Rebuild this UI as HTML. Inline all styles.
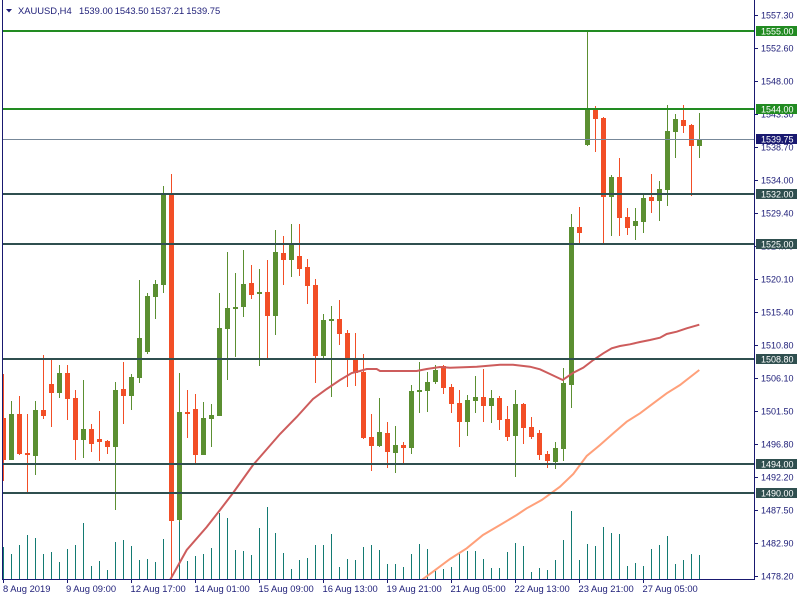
<!DOCTYPE html>
<html><head><meta charset="utf-8"><style>
html,body{margin:0;padding:0;background:#fff;width:800px;height:600px;overflow:hidden}
svg{display:block}
text{font-family:"Liberation Sans",sans-serif}
</style></head><body>
<svg width="800" height="600" viewBox="0 0 800 600" xmlns="http://www.w3.org/2000/svg">
<rect x="0" y="0" width="800" height="600" fill="#ffffff"/>
<defs><clipPath id="ca"><rect x="3" y="0" width="751" height="579"/></clipPath></defs>
<g clip-path="url(#ca)">
<!-- volumes -->
<g fill="#137a72">
<rect x="3" y="547" width="1" height="32"/><rect x="11" y="554" width="1" height="25"/><rect x="19" y="545" width="1" height="34"/><rect x="27" y="535" width="1" height="44"/><rect x="35" y="538" width="1" height="41"/><rect x="43" y="554" width="1" height="25"/><rect x="51" y="552" width="1" height="27"/><rect x="59" y="562" width="1" height="17"/><rect x="67" y="549" width="1" height="30"/><rect x="75" y="545" width="1" height="34"/><rect x="83" y="523" width="1" height="56"/><rect x="91" y="566" width="1" height="13"/><rect x="99" y="561" width="1" height="18"/><rect x="107" y="570" width="1" height="9"/><rect x="115" y="542" width="1" height="37"/><rect x="123" y="540" width="1" height="39"/><rect x="131" y="546" width="1" height="33"/><rect x="139" y="560" width="1" height="19"/><rect x="147" y="559" width="1" height="20"/><rect x="155" y="562" width="1" height="17"/><rect x="163" y="539" width="1" height="40"/><rect x="171" y="566" width="1" height="13"/><rect x="179" y="522" width="1" height="57"/><rect x="187" y="561" width="1" height="18"/><rect x="195" y="556" width="1" height="23"/><rect x="203" y="554" width="1" height="25"/><rect x="211" y="548" width="1" height="31"/><rect x="219" y="513" width="1" height="66"/><rect x="227" y="518" width="1" height="61"/><rect x="235" y="550" width="1" height="29"/><rect x="243" y="551" width="1" height="28"/><rect x="251" y="555" width="1" height="24"/><rect x="259" y="528" width="1" height="51"/><rect x="267" y="507" width="1" height="72"/><rect x="275" y="533" width="1" height="46"/><rect x="283" y="553" width="1" height="26"/><rect x="291" y="569" width="1" height="10"/><rect x="299" y="560" width="1" height="19"/><rect x="307" y="558" width="1" height="21"/><rect x="315" y="545" width="1" height="34"/><rect x="323" y="545" width="1" height="34"/><rect x="331" y="534" width="1" height="45"/><rect x="339" y="567" width="1" height="12"/><rect x="347" y="559" width="1" height="20"/><rect x="355" y="560" width="1" height="19"/><rect x="363" y="547" width="1" height="32"/><rect x="371" y="545" width="1" height="34"/><rect x="379" y="550" width="1" height="29"/><rect x="387" y="564" width="1" height="15"/><rect x="395" y="564" width="1" height="15"/><rect x="403" y="567" width="1" height="12"/><rect x="411" y="554" width="1" height="25"/><rect x="419" y="544" width="1" height="35"/><rect x="427" y="549" width="1" height="30"/><rect x="435" y="571" width="1" height="8"/><rect x="443" y="569" width="1" height="10"/><rect x="451" y="567" width="1" height="12"/><rect x="459" y="554" width="1" height="25"/><rect x="467" y="551" width="1" height="28"/><rect x="475" y="551" width="1" height="28"/><rect x="483" y="559" width="1" height="20"/><rect x="491" y="568" width="1" height="11"/><rect x="499" y="568" width="1" height="11"/><rect x="507" y="552" width="1" height="27"/><rect x="515" y="543" width="1" height="36"/><rect x="523" y="546" width="1" height="33"/><rect x="531" y="572" width="1" height="7"/><rect x="539" y="568" width="1" height="11"/><rect x="547" y="570" width="1" height="9"/><rect x="555" y="560" width="1" height="19"/><rect x="563" y="540" width="1" height="39"/><rect x="571" y="511" width="1" height="68"/><rect x="579" y="560" width="1" height="19"/><rect x="587" y="544" width="1" height="35"/><rect x="595" y="546" width="1" height="33"/><rect x="603" y="527" width="1" height="52"/><rect x="611" y="533" width="1" height="46"/><rect x="619" y="534" width="1" height="45"/><rect x="627" y="566" width="1" height="13"/><rect x="635" y="563" width="1" height="16"/><rect x="643" y="566" width="1" height="13"/><rect x="651" y="549" width="1" height="30"/><rect x="659" y="545" width="1" height="34"/><rect x="667" y="536" width="1" height="43"/><rect x="675" y="564" width="1" height="15"/><rect x="683" y="560" width="1" height="19"/><rect x="691" y="554" width="1" height="25"/><rect x="699" y="555" width="1" height="24"/>
</g>
<!-- bearish candles -->
<g fill="#f24e26">
<rect x="3" y="374" width="1" height="107"/><rect x="1" y="418" width="5" height="42"/>
<rect x="19" y="396" width="1" height="59"/><rect x="17" y="414" width="5" height="40"/>
<rect x="27" y="414" width="1" height="80"/><rect x="25" y="453" width="5" height="2"/>
<rect x="43" y="355" width="1" height="64"/><rect x="41" y="410" width="5" height="6"/>
<rect x="51" y="358" width="1" height="69"/><rect x="49" y="384" width="5" height="9"/>
<rect x="67" y="365" width="1" height="55"/><rect x="65" y="373" width="5" height="26"/>
<rect x="75" y="390" width="1" height="70"/><rect x="73" y="398" width="5" height="42"/>
<rect x="91" y="424" width="1" height="28"/><rect x="89" y="429" width="5" height="15"/>
<rect x="99" y="411" width="1" height="50"/><rect x="97" y="439" width="5" height="3"/>
<rect x="107" y="440" width="1" height="14"/><rect x="105" y="441" width="5" height="6"/>
<rect x="123" y="362" width="1" height="62"/><rect x="121" y="389" width="5" height="7"/>
<rect x="171" y="174" width="1" height="405"/><rect x="169" y="193" width="5" height="328"/>
<rect x="187" y="390" width="1" height="48"/><rect x="185" y="412" width="5" height="2"/>
<rect x="195" y="394" width="1" height="70"/><rect x="193" y="409" width="5" height="46"/>
<rect x="251" y="265" width="1" height="34"/><rect x="249" y="283" width="5" height="12"/>
<rect x="267" y="260" width="1" height="99"/><rect x="265" y="292" width="5" height="24"/>
<rect x="283" y="236" width="1" height="49"/><rect x="281" y="253" width="5" height="7"/>
<rect x="299" y="224" width="1" height="52"/><rect x="297" y="256" width="5" height="13"/>
<rect x="307" y="259" width="1" height="45"/><rect x="305" y="267" width="5" height="19"/>
<rect x="315" y="279" width="1" height="104"/><rect x="313" y="285" width="5" height="71"/>
<rect x="339" y="300" width="1" height="45"/><rect x="337" y="319" width="5" height="15"/>
<rect x="347" y="330" width="1" height="57"/><rect x="345" y="333" width="5" height="26"/>
<rect x="355" y="333" width="1" height="53"/><rect x="353" y="358" width="5" height="15"/>
<rect x="363" y="354" width="1" height="85"/><rect x="361" y="372" width="5" height="66"/>
<rect x="371" y="414" width="1" height="57"/><rect x="369" y="437" width="5" height="9"/>
<rect x="387" y="422" width="1" height="46"/><rect x="385" y="433" width="5" height="19"/>
<rect x="403" y="442" width="1" height="21"/><rect x="401" y="445" width="5" height="3"/>
<rect x="443" y="365" width="1" height="29"/><rect x="441" y="366" width="5" height="22"/>
<rect x="451" y="384" width="1" height="29"/><rect x="449" y="387" width="5" height="17"/>
<rect x="459" y="390" width="1" height="57"/><rect x="457" y="403" width="5" height="19"/>
<rect x="483" y="369" width="1" height="53"/><rect x="481" y="397" width="5" height="9"/>
<rect x="499" y="396" width="1" height="34"/><rect x="497" y="398" width="5" height="22"/>
<rect x="507" y="406" width="1" height="35"/><rect x="505" y="419" width="5" height="18"/>
<rect x="523" y="403" width="1" height="41"/><rect x="521" y="404" width="5" height="24"/>
<rect x="531" y="417" width="1" height="22"/><rect x="529" y="427" width="5" height="10"/>
<rect x="539" y="430" width="1" height="30"/><rect x="537" y="433" width="5" height="22"/>
<rect x="547" y="451" width="1" height="17"/><rect x="545" y="454" width="5" height="7"/>
<rect x="579" y="207" width="1" height="37"/><rect x="577" y="227" width="5" height="6"/>
<rect x="595" y="106" width="1" height="46"/><rect x="593" y="109" width="5" height="10"/>
<rect x="603" y="117" width="1" height="128"/><rect x="601" y="118" width="5" height="79"/>
<rect x="619" y="158" width="1" height="78"/><rect x="617" y="177" width="5" height="41"/>
<rect x="627" y="208" width="1" height="27"/><rect x="625" y="217" width="5" height="11"/>
<rect x="651" y="174" width="1" height="39"/><rect x="649" y="197" width="5" height="4"/>
<rect x="683" y="105" width="1" height="28"/><rect x="681" y="120" width="5" height="6"/>
<rect x="691" y="124" width="1" height="72"/><rect x="689" y="125" width="5" height="21"/>
</g>
<!-- bullish candles -->
<g fill="#5b8f31">
<rect x="11" y="401" width="1" height="59"/><rect x="9" y="414" width="5" height="46"/>
<rect x="35" y="401" width="1" height="74"/><rect x="33" y="410" width="5" height="46"/>
<rect x="59" y="365" width="1" height="33"/><rect x="57" y="373" width="5" height="20"/>
<rect x="83" y="380" width="1" height="78"/><rect x="81" y="429" width="5" height="11"/>
<rect x="115" y="382" width="1" height="128"/><rect x="113" y="390" width="5" height="57"/>
<rect x="131" y="374" width="1" height="36"/><rect x="129" y="377" width="5" height="19"/>
<rect x="139" y="280" width="1" height="103"/><rect x="137" y="338" width="5" height="40"/>
<rect x="147" y="293" width="1" height="61"/><rect x="145" y="296" width="5" height="56"/>
<rect x="155" y="280" width="1" height="39"/><rect x="153" y="284" width="5" height="13"/>
<rect x="163" y="186" width="1" height="107"/><rect x="161" y="193" width="5" height="92"/>
<rect x="179" y="373" width="1" height="149"/><rect x="177" y="412" width="5" height="108"/>
<rect x="203" y="402" width="1" height="53"/><rect x="201" y="418" width="5" height="37"/>
<rect x="211" y="404" width="1" height="43"/><rect x="209" y="415" width="5" height="4"/>
<rect x="219" y="293" width="1" height="123"/><rect x="217" y="328" width="5" height="88"/>
<rect x="227" y="252" width="1" height="128"/><rect x="225" y="308" width="5" height="21"/>
<rect x="235" y="273" width="1" height="84"/><rect x="233" y="307" width="5" height="2"/>
<rect x="243" y="250" width="1" height="67"/><rect x="241" y="284" width="5" height="23"/>
<rect x="259" y="269" width="1" height="97"/><rect x="257" y="292" width="5" height="2"/>
<rect x="275" y="230" width="1" height="105"/><rect x="273" y="252" width="5" height="64"/>
<rect x="291" y="224" width="1" height="53"/><rect x="289" y="243" width="5" height="17"/>
<rect x="323" y="314" width="1" height="46"/><rect x="321" y="320" width="5" height="36"/>
<rect x="331" y="306" width="1" height="91"/><rect x="329" y="319" width="5" height="2"/>
<rect x="379" y="398" width="1" height="49"/><rect x="377" y="432" width="5" height="14"/>
<rect x="395" y="426" width="1" height="47"/><rect x="393" y="445" width="5" height="8"/>
<rect x="411" y="385" width="1" height="69"/><rect x="409" y="391" width="5" height="57"/>
<rect x="419" y="362" width="1" height="51"/><rect x="417" y="390" width="5" height="2"/>
<rect x="427" y="372" width="1" height="40"/><rect x="425" y="382" width="5" height="9"/>
<rect x="435" y="365" width="1" height="19"/><rect x="433" y="370" width="5" height="12"/>
<rect x="467" y="395" width="1" height="41"/><rect x="465" y="400" width="5" height="22"/>
<rect x="475" y="376" width="1" height="37"/><rect x="473" y="397" width="5" height="4"/>
<rect x="491" y="390" width="1" height="33"/><rect x="489" y="398" width="5" height="8"/>
<rect x="515" y="390" width="1" height="87"/><rect x="513" y="404" width="5" height="32"/>
<rect x="555" y="442" width="1" height="27"/><rect x="553" y="448" width="5" height="14"/>
<rect x="563" y="368" width="1" height="93"/><rect x="561" y="383" width="5" height="66"/>
<rect x="571" y="214" width="1" height="194"/><rect x="569" y="227" width="5" height="158"/>
<rect x="587" y="31" width="1" height="115"/><rect x="585" y="109" width="5" height="36"/>
<rect x="611" y="175" width="1" height="61"/><rect x="609" y="177" width="5" height="20"/>
<rect x="635" y="208" width="1" height="32"/><rect x="633" y="221" width="5" height="5"/>
<rect x="643" y="194" width="1" height="39"/><rect x="641" y="198" width="5" height="24"/>
<rect x="659" y="181" width="1" height="40"/><rect x="657" y="189" width="5" height="12"/>
<rect x="667" y="105" width="1" height="101"/><rect x="665" y="131" width="5" height="59"/>
<rect x="675" y="114" width="1" height="44"/><rect x="673" y="119" width="5" height="13"/>
<rect x="699" y="113" width="1" height="45"/><rect x="697" y="139" width="5" height="7"/>
</g>
<!-- moving averages -->
<polyline fill="none" stroke="#cd5c5c" stroke-width="2" points="170,580 186.7,550 206.7,527 220,510 233,493 253,465 260,457 280,434 296.7,417 313,399 326.7,389 340,380 351.7,373 360,371 366.7,369 376.7,369 380,371 416.7,371 426.7,369 440,367 450,367.7 476.7,366.7 500,364.7 513,364.7 530,366.7 540,369.3 550,374 562.7,380 573.3,372.7 583.3,367.7 593.3,360 603.3,353.3 611.7,348.3 620,346 630,344.3 640,342 650,340 660,337.7 666.7,334 676.7,331.7 686.7,328.3 699.3,324.7"/>
<polyline fill="none" stroke="#ffa07a" stroke-width="2" points="421.7,580 433,571.7 450,559 466.7,548.3 483,535 500,525 516.7,515 526.7,508.3 541.7,500 560,486.7 573.3,474 586.7,456 600,445 613.3,433.3 626.7,421.7 640,413.3 653.3,403.3 666.7,393.3 680,385 699.3,370"/>
<!-- levels -->
<rect x="3" y="30" width="751" height="2" fill="#228b22"/>
<rect x="3" y="108" width="751" height="2" fill="#228b22"/>
<rect x="3" y="139" width="751" height="1" fill="#778899"/>
<rect x="3" y="193" width="751" height="2" fill="#2f4f4f"/>
<rect x="3" y="243" width="751" height="2" fill="#2f4f4f"/>
<rect x="3" y="358" width="751" height="2" fill="#2f4f4f"/>
<rect x="3" y="463" width="751" height="2" fill="#2f4f4f"/>
<rect x="3" y="492" width="751" height="2" fill="#2f4f4f"/>
</g>
<!-- axes -->
<rect x="2" y="0" width="1" height="580" fill="#191970"/>
<rect x="754" y="0" width="1" height="580" fill="#191970"/>
<rect x="2" y="579" width="753" height="1" fill="#191970"/>
<!-- right ticks -->
<g fill="#191970">
<rect x="755" y="15" width="3" height="1"/><rect x="755" y="48" width="3" height="1"/><rect x="755" y="81" width="3" height="1"/><rect x="755" y="114" width="3" height="1"/><rect x="755" y="147" width="3" height="1"/><rect x="755" y="180" width="3" height="1"/><rect x="755" y="213" width="3" height="1"/><rect x="755" y="246" width="3" height="1"/><rect x="755" y="279" width="3" height="1"/><rect x="755" y="312" width="3" height="1"/><rect x="755" y="345" width="3" height="1"/><rect x="755" y="378" width="3" height="1"/><rect x="755" y="411" width="3" height="1"/><rect x="755" y="444" width="3" height="1"/><rect x="755" y="477" width="3" height="1"/><rect x="755" y="510" width="3" height="1"/><rect x="755" y="543" width="3" height="1"/><rect x="755" y="576" width="3" height="1"/>
</g>
<g fill="#1e1e78" font-size="9">
<text x="761" y="18.5">1557.30</text><text x="761" y="51.5">1552.60</text><text x="761" y="84.5">1548.00</text><text x="761" y="117.5">1543.30</text><text x="761" y="150.5">1538.70</text><text x="761" y="183.5">1534.00</text><text x="761" y="216.5">1529.40</text><text x="761" y="249.5">1524.70</text><text x="761" y="282.5">1520.10</text><text x="761" y="315.5">1515.40</text><text x="761" y="348.5">1510.80</text><text x="761" y="381.5">1506.10</text><text x="761" y="414.5">1501.50</text><text x="761" y="447.5">1496.80</text><text x="761" y="480.5">1492.20</text><text x="761" y="513.5">1487.50</text><text x="761" y="546.5">1482.90</text><text x="761" y="579.5">1478.20</text>
</g>
<!-- level labels -->
<rect x="756" y="26" width="41" height="10" fill="#228b22"/>
<rect x="756" y="104" width="41" height="10" fill="#228b22"/>
<rect x="756" y="134" width="41" height="10" fill="#191970"/>
<rect x="756" y="189" width="41" height="10" fill="#2f4f4f"/>
<rect x="756" y="239" width="41" height="10" fill="#2f4f4f"/>
<rect x="756" y="354" width="41" height="10" fill="#2f4f4f"/>
<rect x="756" y="459" width="41" height="10" fill="#2f4f4f"/>
<rect x="756" y="488" width="41" height="10" fill="#2f4f4f"/>
<g fill="#ffffff" font-size="9">
<text x="761" y="34.5">1555.00</text>
<text x="761" y="112.5">1544.00</text>
<text x="761" y="142.5">1539.75</text>
<text x="761" y="197.5">1532.00</text>
<text x="761" y="247.5">1525.00</text>
<text x="761" y="362.5">1508.80</text>
<text x="761" y="467.5">1494.00</text>
<text x="761" y="496.5">1490.00</text>
</g>
<!-- bottom ticks -->
<g fill="#191970">
<rect x="3" y="580" width="1" height="3"/><rect x="67" y="580" width="1" height="3"/><rect x="131" y="580" width="1" height="3"/><rect x="195" y="580" width="1" height="3"/><rect x="259" y="580" width="1" height="3"/><rect x="323" y="580" width="1" height="3"/><rect x="387" y="580" width="1" height="3"/><rect x="451" y="580" width="1" height="3"/><rect x="515" y="580" width="1" height="3"/><rect x="579" y="580" width="1" height="3"/><rect x="643" y="580" width="1" height="3"/>
</g>
<g fill="#1e1e78" font-size="9.4">
<text x="3" y="592">8 Aug 2019</text>
<text x="66" y="592">9 Aug 09:00</text>
<text x="130.5" y="592">12 Aug 17:00</text>
<text x="194.5" y="592">14 Aug 01:00</text>
<text x="258.5" y="592">15 Aug 09:00</text>
<text x="322.5" y="592">16 Aug 13:00</text>
<text x="386.5" y="592">19 Aug 21:00</text>
<text x="450.5" y="592">21 Aug 05:00</text>
<text x="514.5" y="592">22 Aug 13:00</text>
<text x="578.5" y="592">23 Aug 21:00</text>
<text x="642.5" y="592">27 Aug 05:00</text>
</g>
<!-- header -->
<polygon points="6,9 12,9 9,12.5" fill="#1e1e78"/>
<g fill="#1e1e78" font-size="9.4">
<text x="18" y="14">XAUUSD,H4</text>
<text x="79" y="14">1539.00</text>
<text x="114.7" y="14">1543.50</text>
<text x="150.3" y="14">1537.21</text>
<text x="186.3" y="14">1539.75</text>
</g>
</svg>
</body></html>
